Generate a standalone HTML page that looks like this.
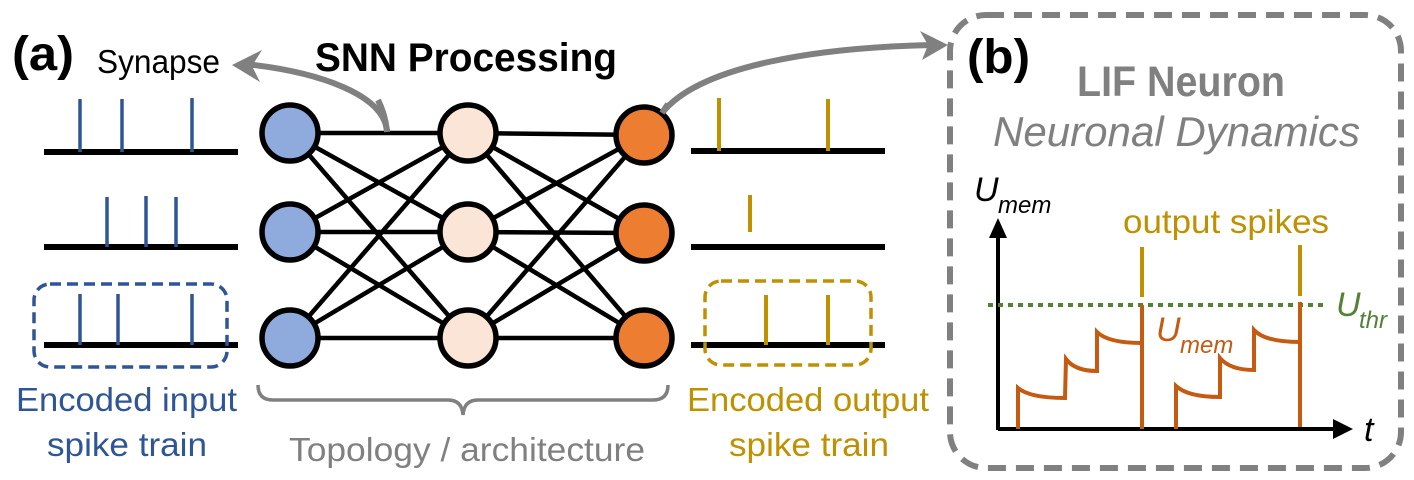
<!DOCTYPE html>
<html><head><meta charset="utf-8"><style>
html,body{margin:0;padding:0;background:#fff;}
svg{display:block;}
text{font-family:"Liberation Sans",sans-serif;}
</style></head><body>
<svg width="1414" height="480" viewBox="0 0 1414 480" xmlns="http://www.w3.org/2000/svg">
<text x="12" y="70" font-size="48" font-weight="bold" textLength="62" lengthAdjust="spacingAndGlyphs">(a)</text>
<text x="97" y="73" font-size="33" textLength="123" lengthAdjust="spacingAndGlyphs">Synapse</text>
<text x="315" y="71" font-size="40" font-weight="bold" textLength="302" lengthAdjust="spacingAndGlyphs">SNN Processing</text>

<path d="M387,132 C385,95 320,72 245,64" fill="none" stroke="#808080" stroke-width="6"/>
<path d="M232,65 L262,50 L252,66 L260,82 Z" fill="#808080"/>
<path d="M662,113 C700,65 820,47 935,45" fill="none" stroke="#808080" stroke-width="6"/>
<path d="M948,45 L920,31 L928,45 L922,60 Z" fill="#808080"/>

<g stroke="#000" stroke-width="6">
<line x1="44" y1="152" x2="238" y2="152"/>
<line x1="44" y1="247" x2="238" y2="247"/>
<line x1="44" y1="345" x2="238" y2="345"/>
<line x1="691" y1="151" x2="885" y2="151"/>
<line x1="691" y1="247" x2="885" y2="247"/>
<line x1="691" y1="345" x2="885" y2="345"/>
</g>
<g stroke="#2F5597" stroke-width="3.5">
<line x1="80" y1="99" x2="80" y2="152"/><line x1="122" y1="99" x2="122" y2="152"/><line x1="192" y1="98" x2="192" y2="152"/>
<line x1="107" y1="197" x2="107" y2="247"/><line x1="146" y1="196" x2="146" y2="247"/><line x1="176" y1="197" x2="176" y2="247"/>
<line x1="80" y1="294" x2="80" y2="345"/><line x1="118" y1="294" x2="118" y2="345"/><line x1="192" y1="294" x2="192" y2="345"/>
</g>
<rect x="34" y="284" width="193" height="83" rx="16" fill="none" stroke="#2F5597" stroke-width="3.5" stroke-dasharray="11,6"/>
<g stroke="#BF9000" stroke-width="4">
<line x1="719" y1="98" x2="719" y2="151"/><line x1="828" y1="99" x2="828" y2="151"/>
<line x1="750" y1="195" x2="750" y2="232"/>
<line x1="766" y1="295" x2="766" y2="345"/><line x1="828" y1="295" x2="828" y2="345"/>
</g>
<rect x="705" y="281" width="166" height="84" rx="16" fill="none" stroke="#BF9000" stroke-width="3.5" stroke-dasharray="11,6"/>

<g stroke="#000" stroke-width="4.5">
<line x1="290" y1="133" x2="468" y2="133"/><line x1="290" y1="133" x2="468" y2="232"/><line x1="290" y1="133" x2="468" y2="338"/>
<line x1="290" y1="232" x2="468" y2="133"/><line x1="290" y1="232" x2="468" y2="232"/><line x1="290" y1="232" x2="468" y2="338"/>
<line x1="290" y1="338" x2="468" y2="133"/><line x1="290" y1="338" x2="468" y2="232"/><line x1="290" y1="338" x2="468" y2="338"/>
<line x1="468" y1="133" x2="644" y2="135"/><line x1="468" y1="133" x2="644" y2="233"/><line x1="468" y1="133" x2="644" y2="338"/>
<line x1="468" y1="232" x2="644" y2="135"/><line x1="468" y1="232" x2="644" y2="233"/><line x1="468" y1="232" x2="644" y2="338"/>
<line x1="468" y1="338" x2="644" y2="135"/><line x1="468" y1="338" x2="644" y2="233"/><line x1="468" y1="338" x2="644" y2="338"/>
</g>
<path d="M387,132 C386,120 383,110 378,100" fill="none" stroke="#808080" stroke-width="6"/>
<g stroke="#000" stroke-width="5.5">
<circle cx="290" cy="133" r="28" fill="#8FAADC"/><circle cx="290" cy="232" r="28" fill="#8FAADC"/><circle cx="290" cy="338" r="28" fill="#8FAADC"/>
<circle cx="468" cy="133" r="28" fill="#FBE5D6"/><circle cx="468" cy="232" r="28" fill="#FBE5D6"/><circle cx="468" cy="338" r="28" fill="#FBE5D6"/>
<circle cx="644" cy="135" r="28" fill="#ED7D31"/><circle cx="644" cy="233" r="28" fill="#ED7D31"/><circle cx="644" cy="338" r="28" fill="#ED7D31"/>
</g>
<path d="M662,113 C664,110 666,107 668,104" fill="none" stroke="#808080" stroke-width="6"/>

<path d="M258,385 Q258,400 273,400 L448,400 Q462,400 463,415 Q464,400 478,400 L653,400 Q668,400 668,385" fill="none" stroke="#808080" stroke-width="3.5"/>

<text x="16" y="411" font-size="33" fill="#2F5597" textLength="221" lengthAdjust="spacingAndGlyphs">Encoded input</text>
<text x="47" y="456" font-size="33" fill="#2F5597" textLength="160" lengthAdjust="spacingAndGlyphs">spike train</text>
<text x="289" y="461" font-size="33" fill="#808080" textLength="356" lengthAdjust="spacingAndGlyphs">Topology / architecture</text>
<text x="687" y="411" font-size="33" fill="#BF9000" textLength="242" lengthAdjust="spacingAndGlyphs">Encoded output</text>
<text x="729" y="456" font-size="33" fill="#BF9000" textLength="160" lengthAdjust="spacingAndGlyphs">spike train</text>

<rect x="950" y="15" width="451" height="453" rx="36" fill="none" stroke="#808080" stroke-width="6" stroke-dasharray="18,10"/>
<text x="967" y="73" font-size="48" font-weight="bold" textLength="63" lengthAdjust="spacingAndGlyphs">(b)</text>
<text x="1077" y="96" font-size="43" font-weight="bold" fill="#808080" textLength="208" lengthAdjust="spacingAndGlyphs">LIF Neuron</text>
<text x="993" y="146" font-size="42" font-style="italic" fill="#808080" textLength="367" lengthAdjust="spacingAndGlyphs">Neuronal Dynamics</text>
<text x="974" y="201" font-size="34" font-style="italic">U</text>
<text x="998" y="213" font-size="24" font-style="italic">mem</text>
<text x="1123" y="233" font-size="33" fill="#BF9000" textLength="206" lengthAdjust="spacingAndGlyphs">output spikes</text>

<line x1="998" y1="430" x2="998" y2="232" stroke="#000" stroke-width="4"/>
<path d="M998,218 L989,238 L1007,238 Z" fill="#000"/>
<line x1="998" y1="429" x2="1335" y2="429" stroke="#000" stroke-width="4"/>
<path d="M1353,429 L1333,419 L1333,439 Z" fill="#000"/>
<text x="1364" y="441" font-size="34" font-style="italic">t</text>

<line x1="988" y1="305" x2="1328" y2="305" stroke="#548235" stroke-width="4" stroke-dasharray="5,5"/>
<text x="1336" y="316" font-size="34" font-style="italic" fill="#548235">U</text>
<text x="1359" y="328" font-size="24" font-style="italic" fill="#548235">thr</text>

<g stroke="#BF9000" stroke-width="4">
<line x1="1142" y1="247" x2="1142" y2="297"/><line x1="1300" y1="245" x2="1300" y2="296"/>
</g>
<g fill="none" stroke="#C55A11" stroke-width="4">
<path d="M1018,429 L1018,388 Q1030,398 1065,398 L1066,359 Q1075,371 1097,371 L1097,332 Q1108,343 1142,343"/>
<line x1="1142" y1="305" x2="1142" y2="429"/>
<path d="M1176,429 L1176,386 Q1188,397 1220,397 L1220,358 Q1230,370 1254,370 L1254,330 Q1265,342 1300,342"/>
<line x1="1300" y1="302" x2="1300" y2="427"/>
</g>
<text x="1156" y="341" font-size="34" font-style="italic" fill="#C55A11">U</text>
<text x="1180" y="353" font-size="24" font-style="italic" fill="#C55A11">mem</text>
</svg>
</body></html>
